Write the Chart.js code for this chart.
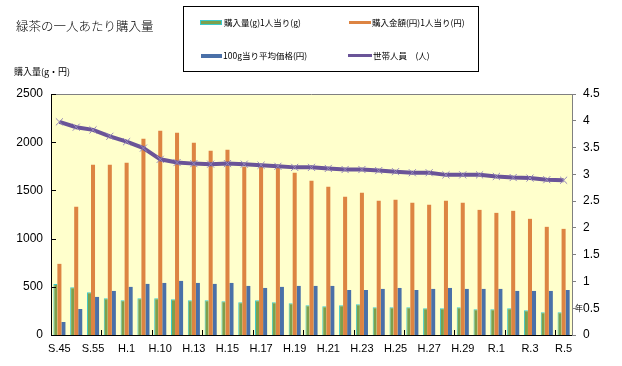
<!DOCTYPE html>
<html>
<head>
<meta charset="utf-8">
<script src="https://cdn.jsdelivr.net/npm/chart.js@4.4.0/dist/chart.umd.min.js"></script>
<style>
  body { margin: 0; background: #fff; }
  #wrap { position: relative; width: 622px; height: 366px; font-family: "Noto Sans CJK JP", "Liberation Sans", sans-serif; color: #000; }
  #chart { position: absolute; left: 0; top: 0; }
  .txt { position: absolute; white-space: nowrap; line-height: 1; }
  #title { left: 16px; top: 20px; font-size: 12.5px; font-weight: 300; }
  #yname { left: 14px; top: 67px; font-size: 9px; }
  #nen { left: 575px; top: 304px; font-size: 8px; }
  #legend { position: absolute; left: 183px; top: 6px; width: 296px; height: 66px; border: 1px solid #000; box-sizing: border-box; }
  .item { position: absolute; font-size: 8.5px; line-height: 1; white-space: nowrap; }
  .sw { position: absolute; }
</style>
</head>
<body>
<div id="wrap">
  <canvas id="chart" width="622" height="366"></canvas>
  <div class="txt" id="title">緑茶の一人あたり購入量</div>
  <div class="txt" id="yname">購入量(g・円)</div>
  <div class="txt" id="nen">年</div>
  <div id="legend">
    <div class="sw" style="left:16px;top:13px;width:22px;height:5px;background:#7DA04C;border:1px solid #3CCACA;box-sizing:border-box"></div>
    <div class="item" style="left:40px;top:11px">購入量(g)1人当り(g)</div>
    <div class="sw" style="left:165px;top:14px;width:22px;height:3px;background:#DD8442"></div>
    <div class="item" style="left:188px;top:11px">購入金額(円)1人当り(円)</div>
    <div class="sw" style="left:17px;top:47px;width:21px;height:4px;background:#4A70A8"></div>
    <div class="item" style="left:39px;top:44px">100g当り平均価格(円)</div>
    <div class="sw" style="left:164px;top:47px;width:24px;height:3px;background:#6A5498"></div>
    <div class="item" style="left:189px;top:44px">世帯人員　(人)</div>
  </div>
</div>
<script>
// categories (years) and series
const years = ['S.45','S.50','S.55','S.60','H.1','H.5','H.10','H.12','H.13','H.14',
  'H.15','H.16','H.17','H.18','H.19','H.20','H.21','H.22','H.23','H.24',
  'H.25','H.26','H.27','H.28','H.29','H.30','R.1','R.2','R.3','R.4','R.5'];
const gramsPerPerson = [530,495,443,381,360,381,381,370,360,360,350,339,360,339,329,308,298,308,319,287,287,287,277,277,287,267,267,277,256,235,235];
const yenPerPerson = [738,1330,1766,1766,1787,2036,2119,2098,1994,1911,1922,1745,1745,1735,1683,1600,1537,1433,1475,1392,1402,1371,1350,1392,1371,1298,1267,1288,1205,1122,1101];
const pricePer100g = [135,270,395,457,499,530,540,561,540,530,540,509,488,499,509,509,509,467,467,478,488,467,478,488,478,478,478,457,457,457,467];
const householdSize = [3.98,3.88,3.83,3.71,3.61,3.49,3.28,3.22,3.20,3.19,3.20,3.19,3.17,3.15,3.13,3.13,3.11,3.09,3.09,3.07,3.05,3.03,3.03,2.99,2.99,2.99,2.96,2.94,2.93,2.90,2.89];
const leftTicks = [0,500,1000,1500,2000,2500];

// plot background, top border and inward tick marks
const plotDeco = {
  id: 'plotDeco',
  beforeDraw(chart) {
    const {ctx, chartArea: a} = chart;
    ctx.save();
    ctx.fillStyle = '#FFFFCC';
    ctx.fillRect(a.left, a.top, a.right - a.left, a.bottom - a.top);
    ctx.restore();
  },
  afterDraw(chart) {
    const {ctx, chartArea: a, scales} = chart;
    ctx.save();
    ctx.strokeStyle = '#808080';
    ctx.lineWidth = 1;
    ctx.beginPath();
    ctx.moveTo(a.left, a.top + 0.5);
    ctx.lineTo(a.right, a.top + 0.5);
    ctx.stroke();
    ctx.strokeStyle = '#000';
    ctx.beginPath();
    leftTicks.forEach(v => {
      const y = Math.round(scales.y.getPixelForValue(v)) + 0.5;
      ctx.moveTo(a.left, y);
      ctx.lineTo(a.left + 5, y);
    });
    const step = (a.right - a.left) / years.length;
    for (let k = 3; k < years.length; k += 3) {
      const x = Math.round(a.left + k * step) + 0.5;
      ctx.moveTo(x, a.bottom);
      ctx.lineTo(x, a.bottom - 5);
    }
    ctx.stroke();
    ctx.restore();
  }
};

const numFont = {family: 'Liberation Sans', size: 12};

new Chart(document.getElementById('chart'), {
  type: 'bar',
  data: {
    labels: years,
    datasets: [
      {
        label: '購入量(g)1人当り(g)',
        data: gramsPerPerson,
        backgroundColor: '#7DA04C',
        borderColor: '#3CCACA',
        borderWidth: {left: 1, top: 1, right: 0, bottom: 0},
        yAxisID: 'y',
        order: 1
      },
      {
        label: '購入金額(円)1人当り(円)',
        data: yenPerPerson,
        backgroundColor: '#DD8442',
        yAxisID: 'y',
        order: 1
      },
      {
        label: '100g当り平均価格(円)',
        data: pricePer100g,
        backgroundColor: '#4A70A8',
        yAxisID: 'y',
        order: 1
      },
      {
        type: 'line',
        label: '世帯人員　(人)',
        data: householdSize,
        borderColor: '#6A5498',
        borderWidth: 4,
        pointStyle: 'crossRot',
        pointRadius: 5,
        pointBorderColor: '#9486B8',
        pointBorderWidth: 1,
        tension: 0,
        yAxisID: 'y1',
        order: 0
      }
    ]
  },
  plugins: [plotDeco],
  options: {
    responsive: false,
    animation: false,
    devicePixelRatio: 1,
    layout: {padding: {top: 94, left: 0, right: 0, bottom: 0}},
    datasets: {bar: {categoryPercentage: 0.72, barPercentage: 1.0}},
    plugins: {legend: {display: false}, title: {display: false}, tooltip: {enabled: false}},
    scales: {
      x: {
        grid: {display: false, drawTicks: false},
        border: {color: '#000', width: 1},
        ticks: {
          autoSkip: false, maxRotation: 0, padding: 7, color: '#000',
          font: {family: 'Liberation Sans', size: 11},
          callback: function(v, i) { return i % 2 === 0 ? years[i] : ''; }
        },
        afterFit(s) { s.height = 31; }
      },
      y: {
        position: 'left',
        min: 0, max: 2500,
        grid: {display: false, drawTicks: false},
        border: {color: '#000', width: 1},
        ticks: {stepSize: 500, padding: 8, color: '#000', font: numFont, callback: v => String(v)},
        afterFit(s) { s.width = 51; }
      },
      y1: {
        position: 'right',
        min: 0, max: 4.5,
        grid: {display: true, drawOnChartArea: false, drawTicks: true, tickLength: 4, color: '#808080'},
        border: {color: '#808080', width: 1},
        ticks: {stepSize: 0.5, padding: 7, color: '#000', font: numFont, callback: v => String(v)},
        afterFit(s) { s.width = 50; }
      }
    }
  }
});
</script>
</body>
</html>
